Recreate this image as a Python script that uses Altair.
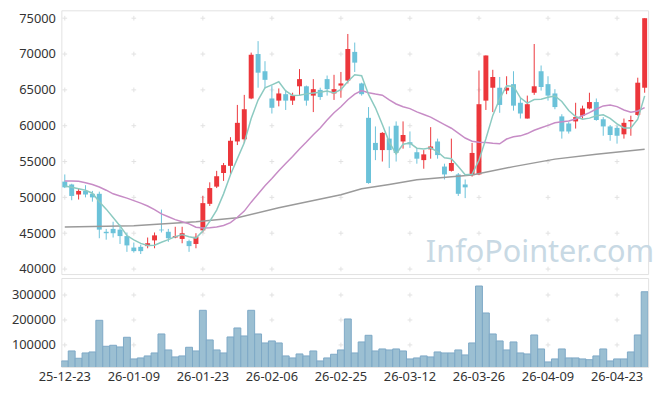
import altair as alt
import pandas as pd

dates = ["25-12-23", "25-12-24", "25-12-26", "25-12-29", "25-12-30", "26-01-02", "26-01-05", "26-01-06",
         "26-01-07", "26-01-08", "26-01-09", "26-01-12", "26-01-13", "26-01-14", "26-01-15", "26-01-16",
         "26-01-19", "26-01-20", "26-01-21", "26-01-22", "26-01-23", "26-01-26", "26-01-27", "26-01-28",
         "26-01-29", "26-01-30", "26-02-02", "26-02-03", "26-02-04", "26-02-05", "26-02-06", "26-02-09",
         "26-02-10", "26-02-11", "26-02-12", "26-02-13", "26-02-19", "26-02-20", "26-02-23", "26-02-24",
         "26-02-25", "26-02-26", "26-02-27", "26-03-03", "26-03-04", "26-03-05", "26-03-06", "26-03-09",
         "26-03-10", "26-03-11", "26-03-12", "26-03-13", "26-03-16", "26-03-17", "26-03-18", "26-03-19",
         "26-03-20", "26-03-23", "26-03-24", "26-03-25", "26-03-26", "26-03-27", "26-03-30", "26-03-31",
         "26-04-01", "26-04-02", "26-04-03", "26-04-06", "26-04-07", "26-04-08", "26-04-09", "26-04-10",
         "26-04-13", "26-04-14", "26-04-15", "26-04-16", "26-04-17", "26-04-20", "26-04-21", "26-04-22",
         "26-04-23", "26-04-24", "26-04-27", "26-04-28", "26-04-29"]

opens = [52200, 51800, 50400, 50900, 50500, 50500, 45200, 45600, 45500, 44600,
         43000, 43100, 43200, 44000, 45500, 45200, 44400, 44200, 43900, 43500,
         45400, 49100, 51500, 53400, 54400, 57800, 58100, 63800, 70000, 67600,
         63800, 63500, 64400, 63500, 65500, 65500, 64200, 65000, 66500, 64500,
         65600, 66300, 70300, 65900, 61100, 57600, 56600, 58200, 60000, 57800,
         57700, 56300, 55200, 56700, 57800, 54300, 53700, 53200, 51800, 53100,
         53200, 63500, 65300, 65300, 64900, 65800, 63200, 61000, 64600, 67600,
         65800, 64500, 61300, 60300, 60600, 61400, 62400, 63300, 60900, 59900,
         59700, 58800, 60600, 61500, 65300]
highs = [53200, 51900, 51200, 51700, 50900, 50800, 45600, 46600, 46200, 45100,
         43700, 43400, 44400, 45100, 48300, 45600, 45900, 45900, 44100, 45000,
         50200, 52100, 53700, 54800, 58400, 62900, 64300, 70200, 71800, 69000,
         65600, 65200, 65000, 64600, 67900, 65600, 66500, 65300, 67000, 67100,
         67500, 72800, 71600, 66000, 62600, 59900, 59100, 59900, 60600, 60600,
         59200, 56900, 56600, 59800, 58200, 54700, 58200, 53400, 52500, 57600,
         67700, 69800, 67800, 66800, 66900, 67600, 63900, 64200, 71400, 68400,
         66900, 65100, 61600, 60500, 63200, 62800, 64600, 63800, 61200, 60100,
         60000, 61000, 61400, 66700, 75000]
lows = [51300, 49600, 49700, 50000, 49400, 44300, 44100, 44400, 43500, 42400,
        42300, 42100, 42900, 42900, 45100, 43800, 44300, 43600, 42400, 42900,
        45100, 48800, 51300, 52300, 53100, 57300, 57600, 63700, 65300, 65200,
        61700, 62700, 62200, 62900, 64200, 62800, 61900, 63600, 64200, 63600,
        63900, 65900, 67500, 64200, 51900, 55200, 55000, 54100, 55000, 56800,
        56900, 54700, 54000, 55400, 55400, 52500, 53600, 50200, 49900, 52900,
        53100, 62200, 61900, 61800, 64400, 62100, 61000, 61000, 64300, 64900,
        63500, 62300, 58200, 58900, 59600, 61000, 62300, 60700, 58600, 57900,
        57500, 58200, 58600, 61400, 64600]
closes = [51400, 50200, 50900, 50400, 50000, 45500, 45000, 45000, 44600, 43300,
          42500, 42500, 43600, 44700, 45400, 44300, 44600, 45000, 43200, 44500,
          49200, 51300, 52950, 54500, 57900, 60400, 62300, 69900, 67400, 66400,
          62500, 64500, 63500, 64200, 66500, 63500, 65100, 64000, 65100, 65100,
          65900, 70700, 68800, 64400, 52000, 56600, 59000, 56600, 56200, 58700,
          57400, 55400, 56000, 57100, 55900, 53200, 54800, 50500, 51400, 56200,
          63000, 69800, 66800, 62900, 65300, 62800, 61700, 63000, 65500, 65400,
          64200, 62600, 59200, 59200, 61200, 62400, 63300, 60800, 59900, 58700,
          58600, 60400, 60800, 66000, 75000]
volumes = [36000, 76000, 46700, 68000, 72000, 198700, 94700, 98700, 92000, 130700,
           44000, 48000, 56000, 68000, 144000, 80000, 52000, 56000, 90700, 76000,
           238700, 120000, 80000, 68000, 132000, 168000, 136000, 238700, 144000, 108000,
           116000, 108000, 56000, 48000, 64000, 56000, 76000, 36000, 48000, 62700,
           80000, 204000, 68000, 112000, 138700, 76000, 84000, 80000, 84000, 76000,
           44000, 48000, 56000, 52000, 72000, 68000, 68000, 80000, 60000, 108000,
           336000, 228000, 144000, 116000, 80000, 112000, 68000, 64000, 140000, 84000,
           32000, 44000, 84000, 48000, 48000, 44000, 41000, 56000, 84000, 36000,
           44000, 44000, 72000, 140000, 313000]
ma5 = [51600, 51400, 51200, 51000, 50580, 49400, 48360, 47180, 46020, 44680,
       44080, 43580, 43300, 43320, 43740, 44100, 44520, 44800, 44500, 44320,
       45300, 46640, 48230, 50490, 53170, 55410, 57610, 61000, 63580, 65280,
       65700, 66140, 64860, 64220, 64240, 64440, 64560, 64660, 64840, 64560,
       65040, 66160, 67120, 66980, 64360, 62500, 60160, 57720, 56080, 57420,
       57580, 56860, 56740, 56920, 56360, 55520, 55400, 54300, 53160, 53220,
       55180, 58180, 61440, 63740, 65560, 65520, 63900, 63140, 63660, 63680,
       63960, 64140, 63380, 62120, 61280, 60920, 61060, 61380, 61520, 61020,
       60260, 59680, 59680, 60900, 64160]
ma20 = [52300, 52300, 52250, 52050, 51800, 51450, 51000, 50500, 50200, 49900,
        49550, 49200, 48800, 48300, 47700, 47300, 46900, 46600, 46300, 45830,
        45720, 45775, 45878, 46083, 46478, 47223, 48088, 49333, 50473, 51628,
        52628, 53728, 54723, 55698, 56753, 57713, 58738, 59688, 60783, 61813,
        62648, 63618, 64410, 64905, 64610, 64420, 64255, 63590, 63030, 62645,
        62390, 61935, 61560, 61205, 60675, 60160, 59645, 58970, 58285, 57840,
        57695, 57650, 57550, 57475, 58140, 58450, 58585, 58905, 59370, 59705,
        60045, 60405, 60565, 60670, 60935, 61395, 61820, 62335, 62760, 62885,
        62665, 62195, 61895, 62050, 62535]
ma120_idx = [0, 10, 19, 25, 31, 40, 43, 47, 51, 59, 65, 71, 77, 84]
ma120_val = [45880, 46050, 46610, 47160, 48540, 50380, 51200, 51800, 52450,
             53130, 54290, 55340, 56030, 56720]

price_ticks = [40000, 45000, 50000, 55000, 60000, 65000, 70000, 75000]
volume_ticks = [100000, 200000, 300000]
label_dates = dates[::10]

UP = "#ec363b"
DOWN = "#6bc2d9"
FONT = "Noto Sans"

n = len(dates)
assert all(len(a) == n for a in [opens, highs, lows, closes, volumes, ma5, ma20])

df = pd.DataFrame({
    "date": dates, "open": opens, "high": highs, "low": lows, "close": closes,
    "volume": volumes, "ma5": ma5, "ma20": ma20,
})
df["dir"] = ["up" if c >= o else "down" for o, c in zip(opens, closes)]
ma120_df = pd.DataFrame({"date": [dates[i] for i in ma120_idx], "ma120": ma120_val})
grid_price = pd.DataFrame([{"date": d, "v": v} for d in label_dates for v in price_ticks])
grid_vol = pd.DataFrame([{"date": d, "v": v} for d in label_dates for v in volume_ticks])

xscale = alt.Scale(type="band", domain=dates, paddingInner=0, paddingOuter=0)
pscale = alt.Scale(domain=[39300, 76100], nice=False, zero=False)
vscale = alt.Scale(domain=[12000, 368000], nice=False, zero=False)
color = alt.Color("dir:N", scale=alt.Scale(domain=["up", "down"], range=[UP, DOWN]), legend=None)

paxis = alt.Axis(values=price_ticks, format="d", title=None, labelOverlap=False)
vaxis = alt.Axis(values=volume_ticks, format="d", title=None, labelOverlap=False)

cross = "M-1,0L1,0M0,-1L0,1"

x_top = alt.X("date:O", scale=xscale, axis=None)


def py(field):
    return alt.Y(field, scale=pscale, axis=paxis)


grid_top = alt.Chart(grid_price).mark_point(shape=cross, size=22, stroke="#d6d6d6", strokeWidth=1, filled=False).encode(
    x=x_top, y=py("v:Q")
)

watermark = alt.Chart(alt.Data(values=[{"t": "InfoPointer.com"}])).mark_text(
    font=FONT, fontSize=31, color="#c8d9e4", align="left", baseline="alphabetic"
).encode(x=alt.value(369), y=alt.value(255), text="t:N")

wicks = alt.Chart(df).mark_rule(strokeWidth=1).encode(
    x=x_top, y=py("low:Q"), y2="high:Q", color=color,
)
bodies = alt.Chart(df).mark_bar(size=5).encode(
    x=x_top, y=py("open:Q"), y2="close:Q", color=color
)
line120 = alt.Chart(ma120_df).mark_line(color="#9a9a9a", strokeWidth=1.5).encode(
    x=x_top, y=py("ma120:Q")
)
line20 = alt.Chart(df).mark_line(color="#c78cc6", strokeWidth=1.5).encode(
    x=x_top, y=py("ma20:Q")
)
line5 = alt.Chart(df).mark_line(color="#8ccac1", strokeWidth=1.5).encode(
    x=x_top, y=py("ma5:Q")
)

top = alt.layer(grid_top, watermark, wicks, bodies, line120, line20, line5).properties(width=594, height=267)

x_bot = alt.X("date:O", scale=xscale,
              axis=alt.Axis(values=label_dates, labelAngle=0, title=None, ticks=False, domain=False,
                            labelPadding=4, labelFontSize=13, labelColor="#333333", labelFont=FONT))

grid_bot = alt.Chart(grid_vol).mark_point(shape=cross, size=22, stroke="#d6d6d6", strokeWidth=1, filled=False).encode(
    x=x_bot, y=alt.Y("v:Q", scale=vscale, axis=vaxis)
)
vbars = alt.Chart(df).mark_bar(color="#9bbfd2", stroke="#7ea9c6", strokeWidth=1, clip=True).encode(
    x=x_bot,
    y=alt.Y("volume:Q", scale=vscale, axis=vaxis),
)
bottom = alt.layer(grid_bot, vbars).properties(width=594, height=90)

chart = alt.vconcat(top, bottom, spacing=0).properties(
    padding={"left": 2, "top": -1, "right": 2, "bottom": 2},
    background="white",
).configure_view(
    stroke="#e2e2e2", strokeWidth=1
).configure_axis(
    labelFont=FONT, labelFontSize=13, labelColor="#333333", ticks=False, domain=False, grid=False,
    labelPadding=6,
).configure_concat(spacing=0)

chart.save("out.html", embed_options={"renderer": "svg", "actions": False})
